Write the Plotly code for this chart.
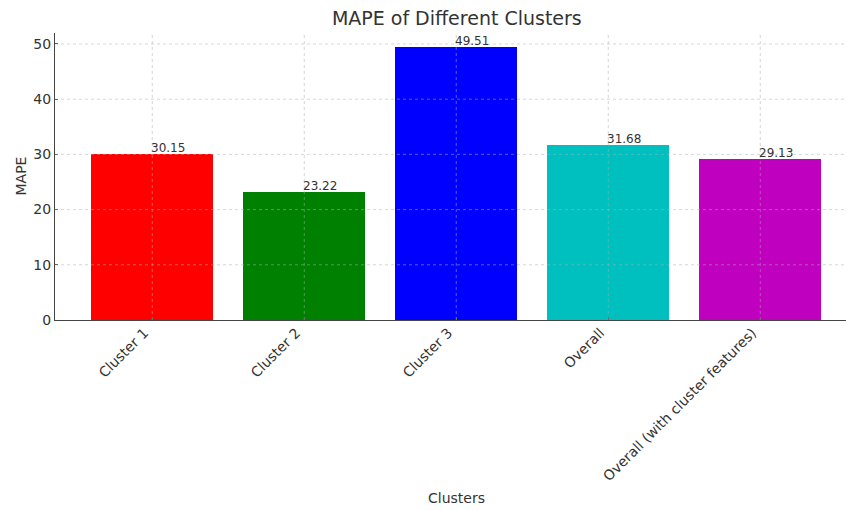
import plotly.graph_objects as go

# MAPE per cluster group
categories = ["Cluster 1", "Cluster 2", "Cluster 3", "Overall", "Overall (with cluster features)"]
mape_values = [30.15, 23.22, 49.51, 31.68, 29.13]
bar_colors = ["#ff0000", "#008000", "#0000ff", "#00bfbf", "#bf00bf"]
y_ticks = [0, 10, 20, 30, 40, 50]

TEXT = "#333333"
FONT = "DejaVu Sans"
positions = list(range(len(categories)))

fig = go.Figure(
    go.Bar(
        x=positions,
        y=mape_values,
        width=0.8,
        marker=dict(color=bar_colors, line=dict(width=0)),
        hoverinfo="skip",
    )
)

# value labels, starting at the bar centre just above each bar
annotations = [
    dict(
        x=p, y=v, xref="x", yref="y", text=f"{v:.2f}", showarrow=False,
        xanchor="left", yanchor="bottom", xshift=-3, yshift=-3,
        font=dict(family=FONT, size=12, color=TEXT),
    )
    for p, v in zip(positions, mape_values)
]

# axis titles
annotations.append(dict(
    x=(len(categories) - 1) / 2, y=0, xref="x", yref="paper", text="Clusters",
    showarrow=False, xanchor="center", yanchor="middle", yshift=-178,
    font=dict(family=FONT, size=14, color=TEXT),
))
annotations.append(dict(
    x=0, y=0.5, xref="paper", yref="paper", text="MAPE", textangle=-90,
    showarrow=False, xanchor="center", yanchor="middle", xshift=-35,
    font=dict(family=FONT, size=14, color=TEXT),
))

# dotted grid drawn on top of the bars
grid = dict(color="rgba(175,175,175,0.5)", width=1, dash="dot")
shapes = [
    dict(type="line", xref="paper", yref="y", x0=0, x1=1, y0=t, y1=t,
         line=grid, layer="above")
    for t in y_ticks[1:]
]
shapes += [
    dict(type="line", xref="x", yref="paper", x0=p, x1=p, y0=0, y1=1,
         line=grid, layer="above")
    for p in positions
]

fig.update_layout(
    width=846,
    height=510,
    margin=dict(l=55, r=0, t=33, b=190),
    paper_bgcolor="white",
    plot_bgcolor="white",
    showlegend=False,
    bargap=0,
    font=dict(family=FONT, color=TEXT),
    title=dict(
        text="MAPE of Different Clusters",
        x=0.508, xref="paper", xanchor="center",
        y=1 - 18 / 510, yref="container", yanchor="middle",
        font=dict(family=FONT, size=19, color=TEXT),
    ),
    annotations=annotations,
    shapes=shapes,
)

fig.update_xaxes(
    range=[-0.64, 4.564],
    tickmode="array",
    tickvals=positions,
    ticktext=categories,
    tickangle=-45,
    tickfont=dict(family=FONT, size=14, color=TEXT),
    ticklabelshift=-8,
    ticklabelstandoff=-2,
    showgrid=False,
    zeroline=False,
    showline=True,
    linecolor="#444444",
    linewidth=1.3,
    ticks="inside",
    ticklen=3,
    tickcolor="#444444",
)

fig.update_yaxes(
    range=[0, 51.99],
    tickmode="array",
    tickvals=y_ticks,
    tickfont=dict(family=FONT, size=14, color=TEXT),
    showgrid=False,
    zeroline=False,
    showline=True,
    linecolor="#444444",
    linewidth=1.3,
    ticks="inside",
    ticklen=3,
    tickcolor="#444444",
)

fig.write_html("out.html")
